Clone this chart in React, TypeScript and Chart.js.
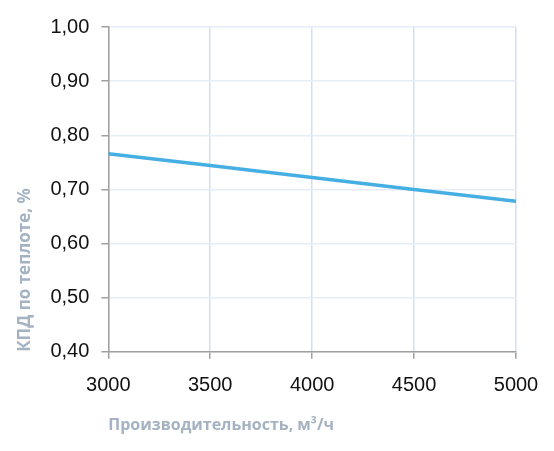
import React, { useEffect, useRef } from "react";
import { Chart, registerables } from "chart.js";

Chart.register(...registerables);

const flowRates = [3000, 3500, 4000, 4500, 5000];
const efficiency = [0.766, 0.744, 0.722, 0.7, 0.678];
const xTitle = "Производительность, м³/ч";
const yTitle = "КПД по теплоте, %";

export default function App() {
  const ref = useRef<HTMLCanvasElement | null>(null);

  useEffect(() => {
    if (!ref.current) return;
    const chart = new Chart(ref.current, {
      type: "line",
      data: {
        datasets: [
          {
            data: flowRates.map((x, i) => ({ x, y: efficiency[i] })),
            borderColor: "#45afe4",
            borderWidth: 3.5,
            pointRadius: 0,
            tension: 0,
            fill: false,
          },
        ],
      },
      options: {
        animation: false,
        responsive: true,
        maintainAspectRatio: false,
        layout: { padding: { left: 15, right: 38, top: 27, bottom: 16 } },
        plugins: { legend: { display: false }, tooltip: { enabled: false } },
        scales: {
          x: {
            type: "linear",
            min: 3000,
            max: 5000,
            ticks: {
              stepSize: 500,
              color: "#111",
              padding: 15,
              font: { family: "'Liberation Sans', Arial, sans-serif", size: 20 },
              callback: (v: any) => String(v),
            },
            grid: {
              color: "#d3e0f2",
              lineWidth: 1.5,
              tickColor: "#a0a0a0",
              tickLength: 7,
            },
            border: { color: "#a0a0a0", width: 1.5 },
            title: {
              display: true,
              text: xTitle,
              align: "start",
              color: "#a5b2c2",
              font: { family: "'Open Sans', sans-serif", size: 16, weight: "bold" },
              padding: { top: 3, bottom: 0 },
            },
          },
          y: {
            min: 0.4,
            max: 1.0,
            ticks: {
              stepSize: 0.1,
              color: "#111",
              padding: 12,
              font: { family: "'Liberation Sans', Arial, sans-serif", size: 20 },
              callback: (v: any) => Number(v).toFixed(2).replace(".", ","),
            },
            grid: {
              color: "#e6edf6",
              lineWidth: 1.5,
              tickColor: "#a0a0a0",
              tickLength: 7,
            },
            border: { color: "#a0a0a0", width: 1.5 },
            title: {
              display: true,
              text: yTitle,
              align: "start",
              color: "#a5b2c2",
              font: { family: "'Open Sans', sans-serif", size: 17, weight: "bold" },
              padding: { top: 0, bottom: 3 },
            },
          },
        },
      },
    });
    return () => chart.destroy();
  }, []);

  return (
    <div style={{ position: "absolute", left: 0, top: 0, width: 554, height: 451, background: "#fff" }}>
      <canvas ref={ref} />
    </div>
  );
}
